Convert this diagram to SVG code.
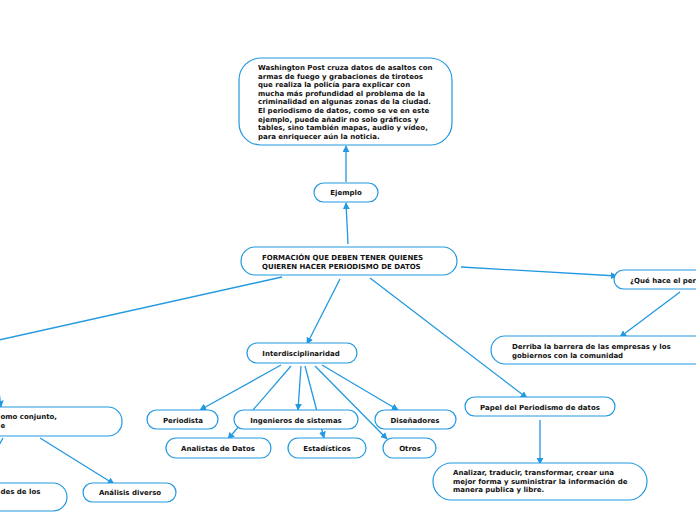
<svg xmlns="http://www.w3.org/2000/svg" width="696" height="520" viewBox="0 0 696 520">
<defs>
<marker id="ah" viewBox="0 0 10 10" refX="9" refY="5" markerWidth="7" markerHeight="7" orient="auto" markerUnits="userSpaceOnUse">
<path d="M0,0 L10,5 L0,10 z" fill="#2299e0"/>
</marker>
<style>
.c{stroke:#2299e0;stroke-width:1.3;fill:none;marker-end:url(#ah)}
.l{stroke:#2299e0;stroke-width:1.3;fill:none}
.n{fill:#ffffff;stroke:#2299e0;stroke-width:1.2}
.t{font-family:"DejaVu Sans",Verdana,sans-serif;font-weight:bold;font-size:7px;fill:#111}
.m{text-anchor:middle}
</style>
</defs>
<rect width="696" height="520" fill="#ffffff"/>
<g id="connectors">
<line class="c" x1="346" y1="182" x2="346" y2="146"/>
<line class="c" x1="348" y1="244" x2="346" y2="203"/>
<line class="c" x1="461" y1="267" x2="617" y2="276"/>
<line class="c" x1="680" y1="292" x2="620" y2="337"/>
<line class="c" x1="370" y1="278" x2="527" y2="398"/>
<line class="c" x1="540" y1="420" x2="540" y2="464"/>
<line class="c" x1="340" y1="279" x2="307" y2="344"/>
<line class="l" x1="282" y1="277" x2="-10" y2="342"/>
<line class="c" x1="281" y1="365" x2="200" y2="410"/>
<line class="c" x1="291" y1="366" x2="228" y2="439"/>
<line class="c" x1="301" y1="366" x2="298" y2="410"/>
<line class="c" x1="305" y1="366" x2="324" y2="438"/>
<line class="c" x1="315" y1="366" x2="387" y2="439"/>
<line class="c" x1="322" y1="365" x2="398" y2="410"/>
<line class="c" x1="-4" y1="370" x2="1" y2="407"/>
<line class="l" x1="3" y1="438" x2="-8" y2="458"/>
<line class="c" x1="40" y1="438" x2="114" y2="484"/>
</g>
<g id="wp">
<rect class="n" x="239" y="58" width="213" height="87" rx="22"/>
<text class="t" x="258" y="70">Washington Post cruza datos de asaltos con</text>
<text class="t" x="258" y="78.6">armas de fuego y grabaciones de tiroteos</text>
<text class="t" x="258" y="87.2">que realiza la policía para explicar con</text>
<text class="t" x="258" y="95.8">mucha más profundidad el problema de la</text>
<text class="t" x="258" y="104.4">criminalidad en algunas zonas de la ciudad.</text>
<text class="t" x="258" y="113">El periodismo de datos, como se ve en este</text>
<text class="t" x="258" y="121.6">ejemplo, puede añadir no solo gráficos y</text>
<text class="t" x="258" y="130.2">tables, sino también mapas, audio y vídeo,</text>
<text class="t" x="258" y="138.8">para enriquecer aún la noticia.</text>
</g>
<g id="ejemplo">
<rect class="n" x="314" y="183" width="64" height="19" rx="9.5"/>
<text class="t m" x="346" y="195">Ejemplo</text>
</g>
<g id="main">
<rect class="n" x="241" y="247" width="216" height="28" rx="14"/>
<text class="t" x="262" y="260">FORMACIÓN QUE DEBEN TENER QUIENES</text>
<text class="t" x="262" y="268.5">QUIEREN HACER PERIODISMO DE DATOS</text>
</g>
<g id="que">
<rect class="n" x="614" y="270" width="110" height="19" rx="9.5"/>
<text class="t" x="630" y="283">¿Qué hace el per</text>
</g>
<g id="derriba">
<rect class="n" x="491" y="336" width="230" height="28" rx="14"/>
<text class="t" x="512" y="349">Derriba la barrera de las empresas y los</text>
<text class="t" x="512" y="357.5">gobiernos con la comunidad</text>
</g>
<g id="papel">
<rect class="n" x="465" y="397" width="150" height="19" rx="9.5"/>
<text class="t m" x="540" y="410">Papel del Periodismo de datos</text>
</g>
<g id="analizar">
<rect class="n" x="433" y="463" width="214" height="37" rx="18.5"/>
<text class="t" x="453" y="475">Analizar, traducir, transformar, crear una</text>
<text class="t" x="453" y="483.6">mejor forma y suministrar la información de</text>
<text class="t" x="453" y="492.2">manera publica y libre.</text>
</g>
<g id="interdisciplinaridad">
<rect class="n" x="247" y="343" width="110" height="20" rx="10"/>
<text class="t m" x="301" y="356">Interdisciplinaridad</text>
</g>
<g id="periodista">
<rect class="n" x="147" y="410" width="71" height="19" rx="9.5"/>
<text class="t m" x="183" y="423">Periodista</text>
</g>
<g id="ingenieros">
<rect class="n" x="234" y="410" width="124" height="19" rx="9.5"/>
<text class="t m" x="296" y="423">Ingenieros de sistemas</text>
</g>
<g id="disenadores">
<rect class="n" x="375" y="410" width="81" height="19" rx="9.5"/>
<text class="t m" x="415" y="423">Diseñadores</text>
</g>
<g id="analistas">
<rect class="n" x="166" y="438" width="105" height="20" rx="10"/>
<text class="t m" x="218" y="451">Analistas de Datos</text>
</g>
<g id="estadisticos">
<rect class="n" x="288" y="438" width="78" height="20" rx="10"/>
<text class="t m" x="327" y="451">Estadísticos</text>
</g>
<g id="otros">
<rect class="n" x="383" y="438" width="53" height="20" rx="10"/>
<text class="t m" x="410" y="451">Otros</text>
</g>
<g id="conjunto">
<rect class="n" x="-120" y="407" width="242" height="29" rx="14"/>
<text class="t" x="0.5" y="419">omo conjunto,</text>
<text class="t" x="0.5" y="427.5">e</text>
</g>
<g id="analisis">
<rect class="n" x="83" y="483" width="93" height="19" rx="9.5"/>
<text class="t m" x="130" y="495">Análisis diverso</text>
</g>
<g id="des">
<rect class="n" x="-150" y="483" width="217" height="28" rx="14"/>
<text class="t" x="0.5" y="494">des de los</text>
</g>
</svg>
